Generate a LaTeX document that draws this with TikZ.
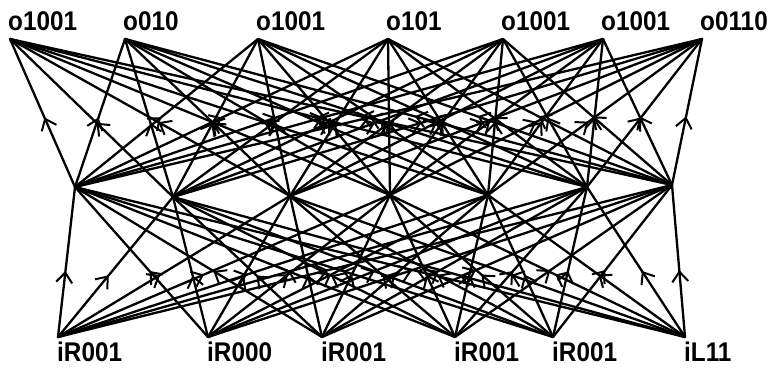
\documentclass[tikz,border=0pt]{standalone}
\usepackage{fontspec}
\usetikzlibrary{arrows.meta,decorations.markings,positioning}
\newfontfamily\labfont{Liberation Sans}[FakeStretch=0.9]
\tikzset{
  neuron/.style={coordinate},
  lbl/.style={inner sep=0pt,font=\labfont\bfseries\fontsize{27}{27}\selectfont},
  wire/.style={line width=2.3pt,line cap=round},
  midarr/.style={postaction={decorate},decoration={markings,
      mark=at position #1 with {\arrow{Straight Barb[length=10pt,width=16pt,line width=2pt]}}}}
}

\begin{document}
\begin{tikzpicture}[x=1pt,y=-1pt]
        \useasboundingbox (0,0) rectangle (782,367);
        % output layer
        \node[neuron] (o1) at (10,39) {};
        \node[neuron] (o2) at (125,39) {};
        \node[neuron] (o3) at (258,39) {};
        \node[neuron] (o4) at (388,39) {};
        \node[neuron] (o5) at (503,39) {};
        \node[neuron] (o6) at (603,39) {};
        \node[neuron] (o7) at (702,39) {};
        % hidden layer
        \node[neuron] (h1) at (75,187) {};
        \node[neuron] (h2) at (173,197) {};
        \node[neuron] (h3) at (290,196) {};
        \node[neuron] (h4) at (390,195) {};
        \node[neuron] (h5) at (488,195) {};
        \node[neuron] (h6) at (587,187) {};
        \node[neuron] (h7) at (672,185) {};
        % input layer
        \node[neuron] (i1) at (58,337) {};
        \node[neuron] (i2) at (208,337) {};
        \node[neuron] (i3) at (322,337) {};
        \node[neuron] (i4) at (455,337) {};
        \node[neuron] (i5) at (553,337) {};
        \node[neuron] (i6) at (685,337) {};

        \foreach \h in {1,...,7}{
          \foreach \o in {1,...,7}
            \draw[wire,midarr=0.47] (h\h) -- (o\o);
          \foreach \i in {1,...,6}
            \draw[wire,midarr=0.44] (i\i) -- (h\h);
        }

        \node[lbl,above right=8pt and -2pt of o1] (lo1) {o1001};
        \node[lbl,above right=8pt and -2pt of o2] (lo2) {o010};
        \node[lbl,above right=8pt and -2pt of o3] (lo3) {o1001};
        \node[lbl,above right=8pt and -2pt of o4] (lo4) {o101};
        \node[lbl,above right=8pt and -2pt of o5] (lo5) {o1001};
        \node[lbl,above right=8pt and -2pt of o6] (lo6) {o1001};
        \node[lbl,above right=8pt and -2pt of o7] (lo7) {o0110};
        \node[lbl,below right=5pt and -1pt of i1] (li1) {iR001};
        \node[lbl,below right=5pt and -1pt of i2] (li2) {iR000};
        \node[lbl,below right=5pt and -1pt of i3] (li3) {iR001};
        \node[lbl,below right=5pt and -1pt of i4] (li4) {iR001};
        \node[lbl,below right=5pt and -1pt of i5] (li5) {iR001};
        \node[lbl,below right=5pt and -1pt of i6] (li6) {iL11};
\end{tikzpicture}
\end{document}
